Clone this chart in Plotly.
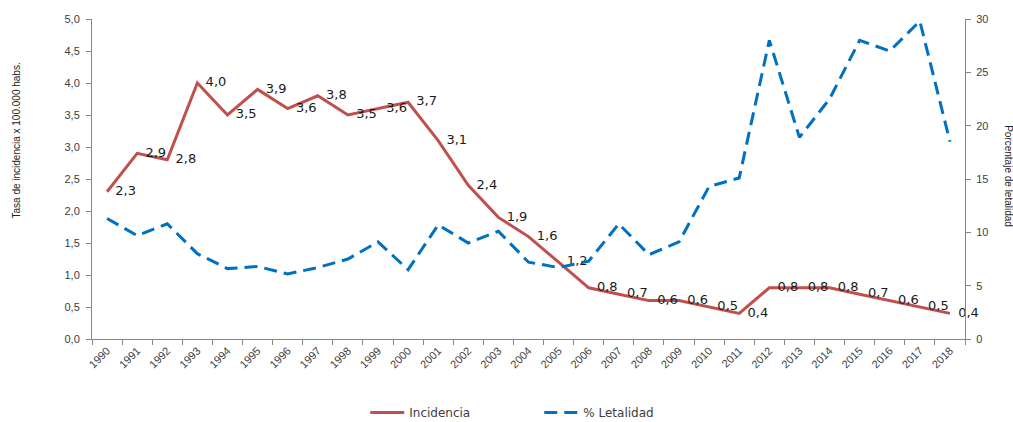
import plotly.graph_objects as go

years = [str(y) for y in range(1990, 2019)]

# Incidence rate per 100,000 inhabitants
incidencia = [2.3, 2.9, 2.8, 4.0, 3.5, 3.9, 3.6, 3.8, 3.5, 3.6, 3.7, 3.1, 2.4, 1.9,
              1.6, 1.2, 0.8, 0.7, 0.6, 0.6, 0.5, 0.4, 0.8, 0.8, 0.8, 0.7, 0.6, 0.5, 0.4]

# Case fatality percentage
letalidad = [11.3, 9.7, 10.8, 8.0, 6.6, 6.8, 6.1, 6.7, 7.5, 9.1, 6.5, 10.7, 9.0, 10.1,
             7.2, 6.7, 7.3, 10.8, 7.9, 9.1, 14.3, 15.1, 28.0, 18.9, 22.5, 28.0, 27.0, 29.8, 18.5]

# Data labels with a decimal comma, padded so they sit clear of the line
labels_inc = ["\u00a0\u00a0" + f"{v:.1f}".replace(".", ",") for v in incidencia]

RED = "#C0504D"
BLUE = "#0070C0"
AXIS = "#868686"
TXT = "#404040"

fig = go.Figure()

fig.add_trace(go.Scatter(
    x=years, y=incidencia, name="Incidencia",
    mode="lines+text", text=labels_inc, textposition="middle right",
    textfont=dict(family="DejaVu Sans", size=13, color="#1a1a1a"),
    line=dict(color=RED, width=3),
    cliponaxis=False,
))

fig.add_trace(go.Scatter(
    x=years, y=letalidad, name="% Letalidad", yaxis="y2",
    mode="lines",
    line=dict(color=BLUE, width=3, dash="13px,7px"),
))

fig.update_layout(
    width=1013, height=422,
    margin=dict(l=92, r=48, t=19, b=83, autoexpand=False),
    paper_bgcolor="white", plot_bgcolor="white",
    separators=",.",
    showlegend=True,
    legend=dict(orientation="h", x=0.313, xanchor="left", y=-0.23, yanchor="middle",
                font=dict(family="DejaVu Sans", size=12, color=TXT),
                itemwidth=34, entrywidth=125, entrywidthmode="pixels"),
    xaxis=dict(
        type="category", tickson="boundaries", ticks="outside", ticklen=5,
        tickcolor=AXIS, showline=True, linecolor=AXIS, linewidth=1,
        showgrid=False, tickangle=-45, automargin=False,
        tickfont=dict(family="Liberation Sans", size=11, color=TXT),
        range=[-0.5, 28.5],
    ),
    yaxis=dict(
        range=[0, 5], dtick=0.5, tickformat=".1f", ticks="outside", ticklen=5,
        tickcolor=AXIS, showline=True, linecolor=AXIS, linewidth=1,
        showgrid=False, zeroline=False, automargin=False, ticklabelstandoff=4,
        tickfont=dict(family="Liberation Sans", size=11, color=TXT),
    ),
    yaxis2=dict(
        overlaying="y", side="right", range=[0, 30], dtick=5, ticks="outside", ticklen=5,
        tickcolor=AXIS, showline=True, linecolor=AXIS, linewidth=1,
        showgrid=False, zeroline=False, automargin=False, ticklabelstandoff=3,
        tickfont=dict(family="Liberation Sans", size=11, color=TXT),
    ),
    annotations=[
        dict(text="Tasa de incidencia x 100.000 habs.", textangle=-90,
             xref="paper", yref="paper", x=-0.086, y=0.62, xanchor="center", yanchor="middle",
             showarrow=False, font=dict(family="Liberation Sans", size=10, color="#222")),
        dict(text="Porcentaje de letalidad", textangle=90,
             xref="paper", yref="paper", x=1.05, y=0.51, xanchor="center", yanchor="middle",
             showarrow=False, font=dict(family="Liberation Sans", size=10, color="#222")),
    ],
)

fig.write_html("out.html")
